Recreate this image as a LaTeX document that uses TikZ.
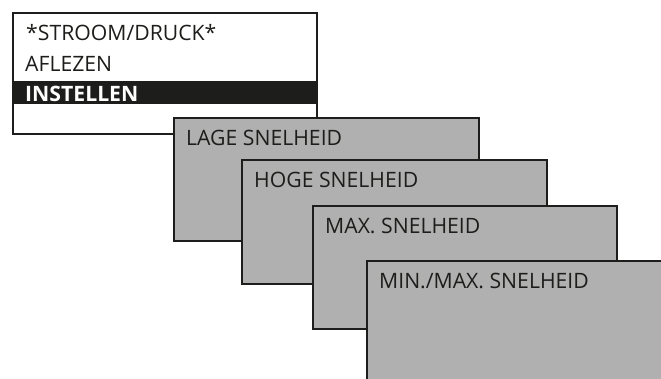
\documentclass[tikz,border=0pt]{standalone}
\usepackage{fontspec}
\setmainfont{Open Sans}
\usetikzlibrary{positioning}
\definecolor{panelgray}{HTML}{B0B0B0}
\definecolor{barblack}{HTML}{1D1D1B}

\begin{document}
\begin{tikzpicture}[
  x=1pt,y=-1pt,
  node distance=0pt,
  screen/.style={draw=barblack,line width=2pt,anchor=north west,inner sep=0pt,
    minimum width=305pt,minimum height=123pt},
  menu/.style={screen,fill=panelgray},
  lbl/.style={anchor=base west,inner sep=0pt,font=\fontsize{21.2}{25}\selectfont,text=barblack}
]
\useasboundingbox (0,0) rectangle (661,378);
\node[screen,fill=white,minimum width=304pt,minimum height=121pt] (top) at (12,12) {};
\fill[barblack] (12,81) rectangle (316,104);
\node[lbl] (stroom) at (26,40) {*STROOM/DRUCK*};
\node[lbl] (aflezen) at (25,71) {AFLEZEN};
\node[lbl,text=white,font=\fontsize{21.2}{25}\selectfont\bfseries] (instellen) at (25,101) {INSTELLEN};

\node[menu] (lage) at (173,117) {};
\node[lbl] at ([shift={(13,28)}]lage.north west) {LAGE SNELHEID};
\node[menu,minimum height=124pt] (hoge) at (241,159) {};
\node[lbl] at ([shift={(13,28)}]hoge.north west) {HOGE SNELHEID};
\node[menu,minimum width=304pt] (max) at (312,205) {};
\node[lbl] at ([shift={(13,28)}]max.north west) {MAX. SNELHEID};
\node[menu,minimum width=320pt,minimum height=140pt] (minmax) at (366,260) {};
\node[lbl] at ([shift={(13,28)}]minmax.north west) {MIN./MAX. SNELHEID};
\end{tikzpicture}
\end{document}
